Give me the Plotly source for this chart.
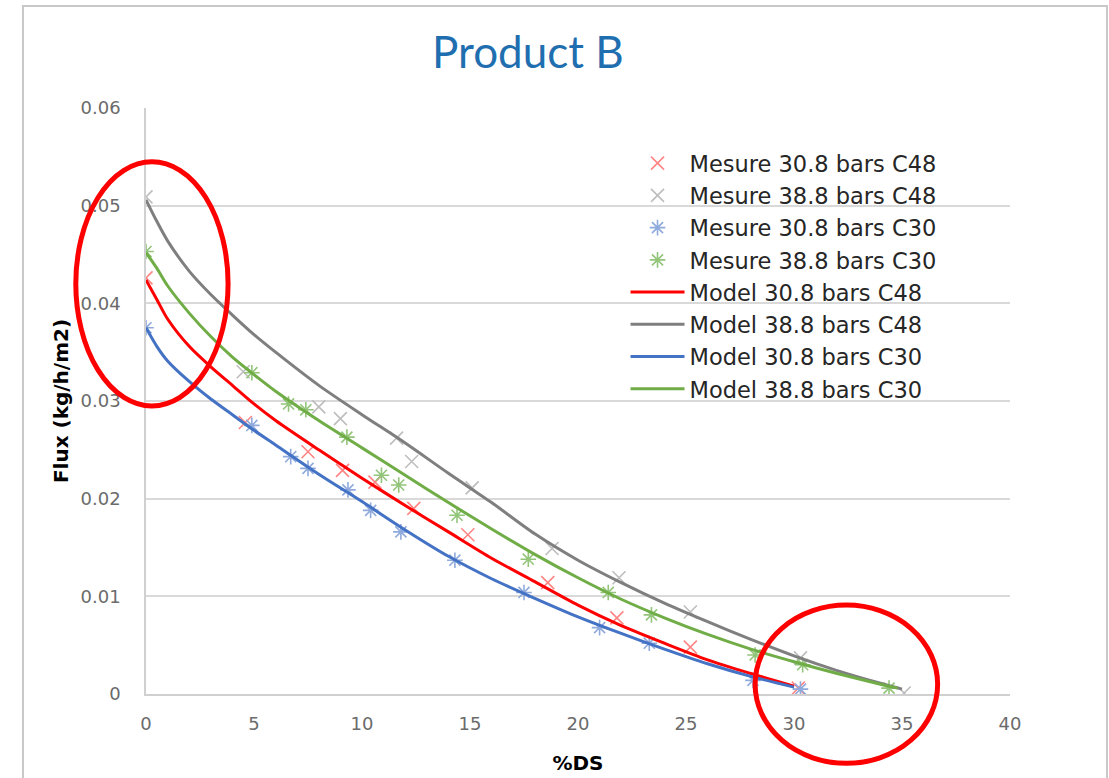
import plotly.graph_objects as go

# ---------------- data ----------------
# measured points (%DS, flux kg/h/m2)
mes_308_c48_x = [0, 4.6, 7.5, 9.1, 10.6, 12.4, 14.9, 18.6, 21.8, 25.2, 30.2]
mes_308_c48_y = [0.0426, 0.0278, 0.0248, 0.0229, 0.0217, 0.0190, 0.0163, 0.0114, 0.0078, 0.0048, 0.0006]

mes_388_c48_x = [0, 4.5, 8.0, 9.0, 11.6, 12.3, 15.1, 18.8, 21.9, 25.2, 30.3, 35.1]
mes_388_c48_y = [0.0509, 0.0330, 0.0294, 0.0282, 0.0262, 0.0238, 0.0211, 0.0149, 0.0119, 0.0084, 0.0037, 0.0001]

mes_308_c30_x = [0, 4.9, 6.7, 7.5, 9.35, 10.4, 11.8, 14.3, 17.5, 21.0, 23.3, 28.1, 30.3]
mes_308_c30_y = [0.0375, 0.0275, 0.0243, 0.0231, 0.0209, 0.0188, 0.0166, 0.0137, 0.0104, 0.0068, 0.0052, 0.0014, 0.0005]

mes_388_c30_x = [0, 4.9, 6.6, 7.4, 9.3, 10.9, 11.7, 14.4, 17.7, 21.4, 23.4, 28.2, 30.4, 34.4]
mes_388_c30_y = [0.0453, 0.0329, 0.0297, 0.0291, 0.0263, 0.0224, 0.0214, 0.0183, 0.0138, 0.0104, 0.0081, 0.0040, 0.0030, 0.0006]

# model curves
model_308_x = [0, 0.5, 1, 2, 3, 4, 5, 6, 8, 10, 12, 14, 16, 18, 20, 22, 24, 26, 28, 30]
model_308_c48_y = [0.0424, 0.0404, 0.0384, 0.0356, 0.0335, 0.0316, 0.0297, 0.0280, 0.0250, 0.0221,
                   0.0193, 0.0166, 0.0139, 0.0115, 0.0091, 0.0070, 0.0052, 0.0035, 0.0021, 0.0008]
model_308_c30_y = [0.0375, 0.0356, 0.0341, 0.0320, 0.0302, 0.0286, 0.0270, 0.0255, 0.0225, 0.0197,
                   0.0168, 0.0141, 0.0118, 0.0098, 0.0079, 0.0062, 0.0046, 0.0031, 0.0018, 0.0007]

model_388_c48_x = [0, 0.5, 1, 2, 3, 4, 5, 6, 8, 10, 12, 14, 16, 18, 20, 22, 24, 26, 28, 30, 32, 34, 35]
model_388_c48_y = [0.0506, 0.0484, 0.0464, 0.0433, 0.0409, 0.0388, 0.0368, 0.0350, 0.0316, 0.0286,
                   0.0257, 0.0226, 0.0196, 0.0164, 0.0137, 0.0114, 0.0093, 0.0074, 0.0056, 0.0039,
                   0.0024, 0.0011, 0.0005]
model_388_c30_x = [0, 0.5, 1, 2, 3, 4, 5, 6, 8, 10, 12, 14, 16, 18, 20, 22, 24, 26, 28, 30, 32, 34, 34.8]
model_388_c30_y = [0.0452, 0.0436, 0.0418, 0.0390, 0.0366, 0.0345, 0.0327, 0.0310, 0.0280, 0.0252,
                   0.0224, 0.0196, 0.0169, 0.0143, 0.0119, 0.0097, 0.0078, 0.0061, 0.0046, 0.0033,
                   0.0021, 0.0010, 0.0006]

x_ticks = [0, 5, 10, 15, 20, 25, 30, 35, 40]
y_ticks = [0, 0.01, 0.02, 0.03, 0.04, 0.05, 0.06]

# highlight ellipses, in data units (x range, y range)
ellipses = [((-3.25, 3.8), (0.0295, 0.0545)), ((28.2, 36.65), (-0.0071, 0.0091))]

# ---------------- figure ----------------
X_RANGE = [0, 40]
Y_RANGE = [0, 0.06]
FONT = "DejaVu Sans"

fig = go.Figure()

def measured(x, y, name, color, symbol, rank):
    fig.add_trace(go.Scatter(
        x=x, y=y, mode="markers", name=name, legendrank=rank,
        marker=dict(symbol=symbol, size=13, color=color, line=dict(color=color, width=1.6)),
    ))

def model(x, y, name, color, rank):
    fig.add_trace(go.Scatter(
        x=x, y=y, mode="lines", name=name, legendrank=rank,
        line=dict(color=color, width=3, shape="spline", smoothing=0.8),
    ))

measured(mes_308_c48_x, mes_308_c48_y, "Mesure 30.8 bars C48", "#FF8585", "x-thin-open", 1)
measured(mes_388_c48_x, mes_388_c48_y, "Mesure 38.8 bars C48", "#BDBDBD", "x-thin-open", 2)
measured(mes_308_c30_x, mes_308_c30_y, "Mesure 30.8 bars C30", "#8FAADC", "asterisk-open", 3)
measured(mes_388_c30_x, mes_388_c30_y, "Mesure 38.8 bars C30", "#92C57A", "asterisk-open", 4)
model(model_308_x, model_308_c48_y, "Model 30.8 bars C48", "#FF0000", 5)
model(model_388_c48_x, model_388_c48_y, "Model 38.8 bars C48", "#7F7F7F", 6)
model(model_308_x, model_308_c30_y, "Model 30.8 bars C30", "#4472C4", 7)
model(model_388_c30_x, model_388_c30_y, "Model 38.8 bars C30", "#70AD47", 8)

def to_paper_x(v):
    return (v - X_RANGE[0]) / (X_RANGE[1] - X_RANGE[0])

def to_paper_y(v):
    return (v - Y_RANGE[0]) / (Y_RANGE[1] - Y_RANGE[0])

shapes = []
for (ex, ey) in ellipses:
    shapes.append(dict(type="circle", xref="paper", yref="paper",
                       x0=to_paper_x(ex[0]), x1=to_paper_x(ex[1]),
                       y0=to_paper_y(ey[0]), y1=to_paper_y(ey[1]),
                       line=dict(color="#FF0000", width=5), layer="above"))
# outer chart frame
shapes.append(dict(type="rect", xref="paper", yref="paper",
                   x0=-0.1424, x1=1.1123, y0=-0.2, y1=1.174,
                   line=dict(color="#C8C8C8", width=2), layer="below"))

fig.update_layout(
    width=1109, height=778,
    margin=dict(l=146, r=99, t=108, b=84, autoexpand=False),
    paper_bgcolor="white", plot_bgcolor="white",
    font=dict(family=FONT, color="#595959"),
    title=dict(text="Product B", x=0.476, xanchor="center", y=0.933, yanchor="middle",
               font=dict(family="Lato", size=44, color="#1F6FB0")),
    showlegend=True,
    legend=dict(x=0.555, y=0.942, xanchor="left", yanchor="top",
                bgcolor="rgba(0,0,0,0)", font=dict(family=FONT, size=22.5, color="#262626"),
                tracegroupgap=0, itemwidth=54),
    shapes=shapes,
)

fig.update_xaxes(
    range=X_RANGE, tickvals=x_ticks, showgrid=False, zeroline=False, automargin=False,
    showline=True, linecolor="#D0D0D0", linewidth=1.5,
    ticks="outside", ticklen=13, tickcolor="rgba(0,0,0,0)",
    tickfont=dict(family=FONT, size=18, color="#6B6B6B"),
    title=dict(text="<b>%DS</b>", font=dict(family=FONT, size=20, color="#000000"), standoff=23),
)
fig.update_yaxes(
    range=Y_RANGE, tickvals=y_ticks, showgrid=True, gridcolor="#D9D9D9", gridwidth=1.5,
    zeroline=False, automargin=False, showline=True, linecolor="#D0D0D0", linewidth=1.5,
    ticks="outside", ticklen=20, tickcolor="rgba(0,0,0,0)",
    tickfont=dict(family=FONT, size=18, color="#6B6B6B"),
    title=dict(text="<b>Flux (kg/h/m2)</b>", font=dict(family=FONT, size=20, color="#000000"), standoff=7),
)

fig.write_html("out.html")
